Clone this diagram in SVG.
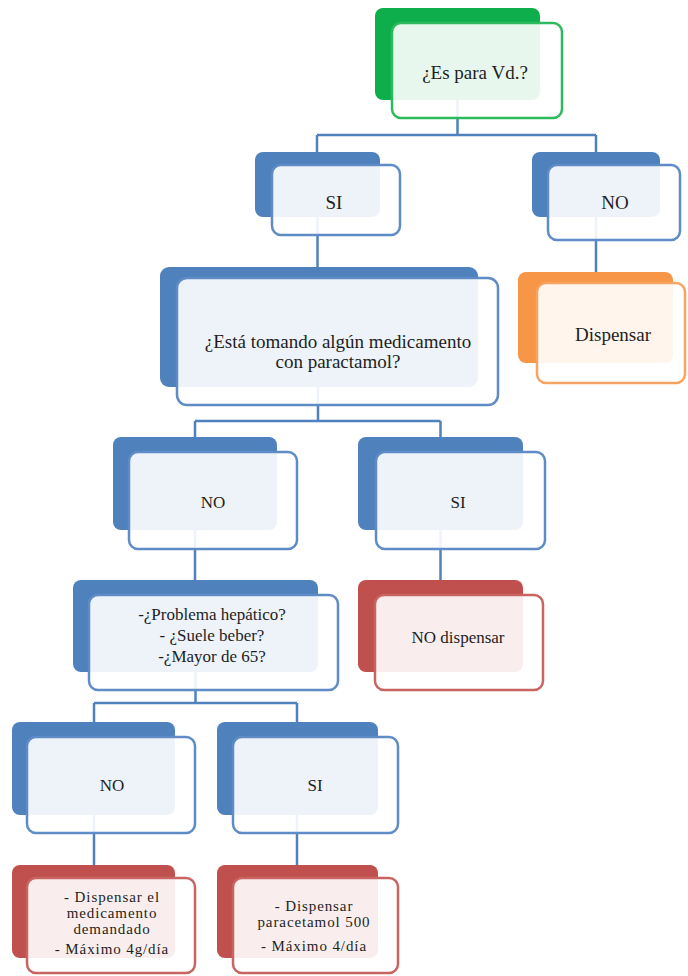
<svg xmlns="http://www.w3.org/2000/svg" width="688" height="976" viewBox="0 0 688 976">
<style>
.conn{fill:none;stroke:#4F81BD;stroke-width:2.5}
.bb{fill:#4F81BD}
.bg{fill:#0FAE4C}
.bo{fill:#F79646}
.br{fill:#C0504D}
.f{fill:#ffffff;fill-opacity:0.9;stroke-width:2.5}
.fb{stroke:#5F8CC6}
.fg{stroke:#2DBA5E}
.fo{stroke:#F7A462}
.fr{stroke:#C86562}
text{font-family:"Liberation Serif","Times New Roman",serif;fill:#1e1e1e;text-anchor:middle}
.t19{font-size:19px}
.t17{font-size:17px}
.t15{font-size:15px;letter-spacing:0.9px}
</style>
<g id="connectors">
<path class="conn" d="M457.5,100 V135 M317,135 H596 M317,135 V152 M596,135 V152"/>
<path class="conn" d="M317.5,217 V267"/>
<path class="conn" d="M596,217 V272"/>
<path class="conn" d="M318,387 V421 M195,421 H440.5 M195,421 V437 M440.5,421 V437"/>
<path class="conn" d="M195,530 V580"/>
<path class="conn" d="M440.5,530 V580"/>
<path class="conn" d="M195.5,672 V703 M94,703 H297 M94,703 V722 M297,703 V722"/>
<path class="conn" d="M94,815 V865"/>
<path class="conn" d="M297,815 V865"/>
</g>
<g id="n-root">
<rect class="bg" x="375" y="8" width="165" height="92" rx="8"/>
<rect class="f fg" x="392" y="23" width="170" height="95" rx="9"/>
<text class="t19" x="475" y="79">¿Es para Vd.?</text>
</g>
<g id="n-si1">
<rect class="bb" x="255" y="152" width="125" height="65" rx="8"/>
<rect class="f fb" x="272" y="165" width="128" height="70" rx="9"/>
<text class="t19" x="334" y="209">SI</text>
</g>
<g id="n-no1">
<rect class="bb" x="532" y="152" width="128" height="65" rx="8"/>
<rect class="f fb" x="548" y="165" width="132" height="75" rx="9"/>
<text class="t19" x="615" y="209">NO</text>
</g>
<g id="n-dispensar">
<rect class="bo" x="518" y="272" width="155" height="91" rx="8"/>
<rect class="f fo" x="537" y="283" width="148" height="100" rx="9"/>
<text class="t19" x="613" y="341">Dispensar</text>
</g>
<g id="n-medicamento">
<rect class="bb" x="160" y="267" width="318" height="120" rx="9"/>
<rect class="f fb" x="177" y="278" width="321" height="127" rx="10"/>
<text class="t19" x="338" y="348">¿Está tomando algún medicamento</text>
<text class="t19" x="338" y="368">con paractamol?</text>
</g>
<g id="n-no2">
<rect class="bb" x="113" y="437" width="164" height="93" rx="8"/>
<rect class="f fb" x="129" y="452" width="168" height="97" rx="9"/>
<text class="t17" x="213" y="508">NO</text>
</g>
<g id="n-si2">
<rect class="bb" x="358" y="437" width="165" height="93" rx="8"/>
<rect class="f fb" x="376" y="452" width="169" height="97" rx="9"/>
<text class="t17" x="458" y="508">SI</text>
</g>
<g id="n-preguntas">
<rect class="bb" x="73" y="580" width="245" height="92" rx="8"/>
<rect class="f fb" x="89" y="595" width="249" height="95" rx="9"/>
<text class="t17" x="212" y="620">-¿Problema hepático?</text>
<text class="t17" x="212" y="641">- ¿Suele beber?</text>
<text class="t17" x="212" y="662">-¿Mayor de 65?</text>
</g>
<g id="n-nodispensar">
<rect class="br" x="358" y="580" width="165" height="92" rx="8"/>
<rect class="f fr" x="375" y="595" width="168" height="95" rx="9"/>
<text class="t17" x="458" y="643">NO dispensar</text>
</g>
<g id="n-no3">
<rect class="bb" x="12" y="722" width="163" height="93" rx="8"/>
<rect class="f fb" x="27" y="737" width="168" height="96" rx="9"/>
<text class="t17" x="112" y="791">NO</text>
</g>
<g id="n-si3">
<rect class="bb" x="217" y="722" width="161" height="93" rx="8"/>
<rect class="f fb" x="233" y="737" width="165" height="96" rx="9"/>
<text class="t17" x="315" y="791">SI</text>
</g>
<g id="n-res1">
<rect class="br" x="12" y="865" width="163" height="93" rx="8"/>
<rect class="f fr" x="27" y="878" width="168" height="95" rx="9"/>
<text class="t15" x="112" y="902">- Dispensar el</text>
<text class="t15" x="112" y="918">medicamento</text>
<text class="t15" x="112" y="934">demandado</text>
<text class="t15" x="112" y="954">- Máximo  4g/día</text>
</g>
<g id="n-res2">
<rect class="br" x="217" y="865" width="161" height="93" rx="8"/>
<rect class="f fr" x="233" y="878" width="165" height="95" rx="9"/>
<text class="t15" x="314" y="911">- Dispensar</text>
<text class="t15" x="314" y="927">paracetamol 500</text>
<text class="t15" x="314" y="951">- Máximo  4/día</text>
</g>
</svg>
